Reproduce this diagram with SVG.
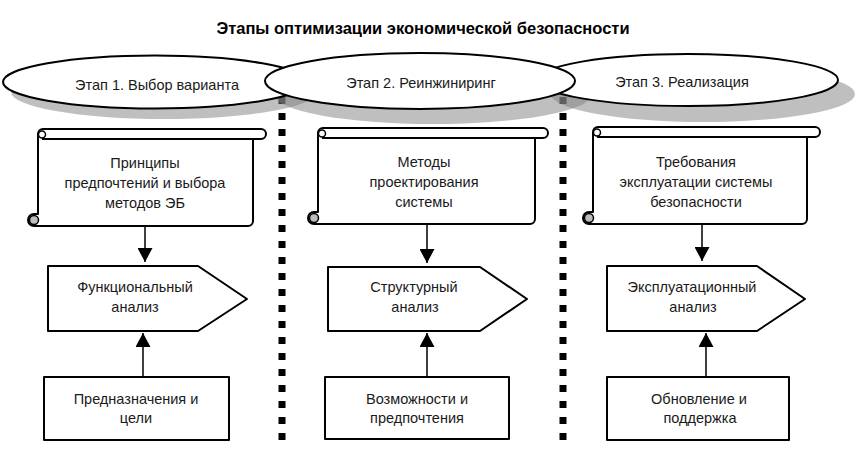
<svg xmlns="http://www.w3.org/2000/svg" width="860" height="475" viewBox="0 0 860 475">
<style>
text{font-family:"Liberation Sans",Arial,sans-serif;font-size:14.5px;fill:#1a1a1a;text-anchor:middle}
.title{font-size:16.5px;font-weight:bold;fill:#000}
.ell{fill:#fff;stroke:#000;stroke-width:2}
.sh{fill:#808080;opacity:0.5}
.box{fill:#fff;stroke:#000;stroke-width:2;stroke-linejoin:round}
.ln{fill:none;stroke:#000;stroke-width:2}
.curl{fill:#fff;stroke:#000;stroke-width:1.5}
.roll{fill:#bdbdbd;stroke:#000;stroke-width:1.5}
.dot{stroke:#000;stroke-width:7;stroke-dasharray:7 9}
.arr{stroke:#000;stroke-width:1.5;fill:none;marker-end:url(#ah)}
</style>
<defs>
<marker id="ah" markerUnits="userSpaceOnUse" markerWidth="14" markerHeight="15" refX="14" refY="7.5" orient="auto">
<path d="M0,0 L14,7.5 L0,15 Z" fill="#000"/>
</marker>
</defs>
<rect width="860" height="475" fill="#fff"/>
<text class="title" x="423" y="34">Этапы оптимизации экономической безопасности</text>

<g id="separators">
<line class="dot" x1="282" y1="97" x2="282" y2="448"/>
<line class="dot" x1="563" y1="97" x2="563" y2="448"/>
</g>

<g id="shadows">
<ellipse class="sh" cx="164" cy="92" rx="153" ry="27"/>
<ellipse class="sh" cx="433" cy="95" rx="158" ry="29"/>
<ellipse class="sh" cx="703" cy="94" rx="152" ry="28"/>
</g>

<g id="stage1">
<ellipse class="ell" cx="155" cy="82" rx="152" ry="26.5"/>
<text x="157" y="90">Этап 1. Выбор варианта</text>
</g>
<g id="stage3">
<ellipse class="ell" cx="688" cy="80" rx="150" ry="26"/>
<text x="682" y="87">Этап 3. Реализация</text>
</g>
<g id="stage2">
<ellipse class="ell" cx="420" cy="81" rx="155" ry="28"/>
<text x="421" y="88">Этап 2. Реинжиниринг</text>
</g>

<g id="scroll1">
<path class="box" d="M38,134 A5,5 0 0 1 43,129 H261 A5,5 0 0 1 261,139 H253 V221 A5,5 0 0 1 248,226 H34 A6,6 0 0 1 34,214 H38 Z"/>
<path class="ln" d="M42,139 H261"/>
<circle class="curl" cx="42" cy="134.5" r="3.5"/>
<circle class="roll" cx="34" cy="220" r="4.5"/>
<text x="145" y="168">Принципы</text>
<text x="145" y="188">предпочтений и выбора</text>
<text x="145" y="208">методов ЭБ</text>
</g>
<g id="scroll2">
<path class="box" d="M318,133 A5,5 0 0 1 323,128 H543 A5,5 0 0 1 543,138 H535 V219 A5,5 0 0 1 530,224 H314 A6,6 0 0 1 314,212 H318 Z"/>
<path class="ln" d="M322,138 H543"/>
<circle class="curl" cx="322" cy="133.5" r="3.5"/>
<circle class="roll" cx="314" cy="218" r="4.5"/>
<text x="424" y="167">Методы</text>
<text x="424" y="187">проектирования</text>
<text x="424" y="207">системы</text>
</g>
<g id="scroll3">
<path class="box" d="M593,132 A5,5 0 0 1 598,127 H815 A5,5 0 0 1 815,137 H807 V219 A5,5 0 0 1 802,224 H589 A6,6 0 0 1 589,212 H593 Z"/>
<path class="ln" d="M597,137 H815"/>
<circle class="curl" cx="597" cy="132.5" r="3.5"/>
<circle class="roll" cx="589" cy="218" r="4.5"/>
<text x="696" y="167">Требования</text>
<text x="696" y="187">эксплуатации системы</text>
<text x="696" y="207">безопасности</text>
</g>

<g id="analysis1">
<polygon class="box" points="48,266 198,266 247,299 198,331 48,331"/>
<text x="135" y="292">Функциональный</text>
<text x="135" y="312">анализ</text>
</g>
<g id="analysis2">
<polygon class="box" points="328,267 480,267 527,299 480,331 328,331"/>
<text x="414" y="292">Структурный</text>
<text x="415" y="312">анализ</text>
</g>
<g id="analysis3">
<polygon class="box" points="607,266 757,266 805,299 757,331 607,331"/>
<text x="692" y="292">Эксплуатационный</text>
<text x="693" y="312">анализ</text>
</g>

<g id="goal1">
<rect class="box" x="44" y="377" width="185" height="63"/>
<text x="136" y="404">Предназначения и</text>
<text x="136" y="423">цели</text>
</g>
<g id="goal2">
<rect class="box" x="325" y="377" width="184" height="62"/>
<text x="417" y="404">Возможности и</text>
<text x="417" y="423">предпочтения</text>
</g>
<g id="goal3">
<rect class="box" x="607" y="377" width="182" height="63"/>
<text x="699" y="404">Обновление и</text>
<text x="700" y="423">поддержка</text>
</g>

<g id="connectors">
<line class="arr" x1="145" y1="227" x2="145" y2="262"/>
<line class="arr" x1="427" y1="225" x2="427" y2="263"/>
<line class="arr" x1="702" y1="225" x2="702" y2="261"/>
<line class="arr" x1="143" y1="376" x2="143" y2="333"/>
<line class="arr" x1="427" y1="376" x2="427" y2="333"/>
<line class="arr" x1="706" y1="376" x2="706" y2="333"/>
</g>
</svg>
